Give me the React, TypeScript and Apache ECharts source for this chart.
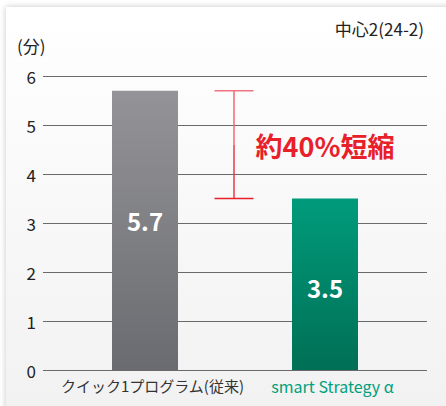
import React, { useEffect, useRef } from "react";
import * as echarts from "echarts";

const categories = ["クイック1プログラム(従来)", "smart Strategy α"];
const values = [5.7, 3.5];
const yTicks = [0, 1, 2, 3, 4, 5, 6];
const titleText = "中心2(24-2)";
const unitText = "(分)";
const noteText = "約40%短縮";

const FONT = "'Noto Sans CJK JP', 'Noto Sans', sans-serif";

export default function App() {
  const ref = useRef<HTMLDivElement>(null);
  useEffect(() => {
    if (!ref.current) return;
    const chart = echarts.init(ref.current, undefined, { renderer: "svg" });
    const gridTop = 76;
    const gridBottom = 36;
    const barColors = [
      new echarts.graphic.LinearGradient(0, 0, 0, 1, [
        { offset: 0, color: "#949498" },
        { offset: 1, color: "#6a6b70" },
      ]),
      new echarts.graphic.LinearGradient(0, 0, 0, 1, [
        { offset: 0, color: "#009b7b" },
        { offset: 1, color: "#006f55" },
      ]),
    ];
    const labelOffsets = [
      [0, -10],
      [0, 3],
    ];
    const option: any = {
      animation: false,
      backgroundColor: "#ffffff",
      textStyle: { fontFamily: FONT },
      grid: [
        { left: 43, right: 19, top: gridTop, bottom: gridBottom },
        { left: 55, right: 31, top: gridTop, bottom: gridBottom },
      ],
      xAxis: [
        { type: "category", gridIndex: 0, data: categories, show: false },
        {
          type: "category",
          gridIndex: 1,
          data: categories,
          axisLine: { show: false },
          axisTick: { show: false },
          axisLabel: {
            interval: 0,
            margin: 8,
            fontFamily: FONT,
            formatter: (v: string, i: number) => (i === 1 ? `{g|${v}}` : `{k|${v}}`),
            rich: {
              k: { fontSize: 15, color: "#333333", fontFamily: FONT, padding: [0, 0, 0, 15] },
              g: { fontSize: 16, color: "#00a07c", fontFamily: FONT, padding: [0, 0, 0, 15] },
            },
          },
        },
      ],
      yAxis: [
        {
          type: "value",
          gridIndex: 0,
          min: yTicks[0],
          max: yTicks[yTicks.length - 1],
          interval: 1,
          axisLine: { show: false },
          axisTick: { show: false },
          axisLabel: { margin: 7, fontSize: 17, color: "#222222", fontFamily: FONT },
          splitLine: { lineStyle: { color: "#6a6a6a", width: 1 } },
        },
        {
          type: "value",
          gridIndex: 1,
          min: yTicks[0],
          max: yTicks[yTicks.length - 1],
          interval: 1,
          show: false,
          splitLine: { show: false },
        },
      ],
      graphic: [],
      series: [
        {
          type: "bar",
          xAxisIndex: 1,
          yAxisIndex: 1,
          barWidth: 66,
          data: values.map((v, i) => ({
            value: v,
            itemStyle: { color: barColors[i] },
            label: { offset: labelOffsets[i] },
          })),
          label: {
            show: true,
            position: "inside",
            color: "#ffffff",
            fontSize: 24,
            fontWeight: 600,
            fontFamily: FONT,
            formatter: (p: any) => p.value.toFixed(1),
          },
          z: 5,
        },
      ],
    };
    chart.setOption(option);

    const p0 = chart.convertToPixel({ xAxisIndex: 1, yAxisIndex: 1 } as any, [0, values[0]]) as number[];
    const p1 = chart.convertToPixel({ xAxisIndex: 1, yAxisIndex: 1 } as any, [1, values[1]]) as number[];
    const bx = (p0[0] + p1[0]) / 2 - 1;
    const capHalf = 19.5;
    const midY = (p0[1] + p1[1]) / 2 + 1;
    const upperY = p0[1] + (p1[1] - p0[1]) * 0.5;

    chart.setOption({
      graphic: [
        {
          type: "rect",
          z: -10,
          silent: true,
          shape: { x: 6, y: 7, width: 460, height: 420 },
          style: {
            fill: new echarts.graphic.LinearGradient(0, 0, 0, 1, [
              { offset: 0, color: "#ffffff" },
              { offset: 1, color: "#f1f1f1" },
            ]),
            shadowBlur: 6,
            shadowColor: "rgba(0,0,0,0.22)",
          },
        },
        {
          type: "text",
          right: 22,
          top: 20,
          style: { text: titleText, fontSize: 17, fill: "#222222", fontFamily: FONT },
        },
        {
          type: "text",
          left: 17,
          top: 37,
          style: { text: unitText, fontSize: 17, fill: "#222222", fontFamily: FONT },
        },
        {
          type: "line",
          shape: { x1: bx, y1: p0[1], x2: bx, y2: upperY },
          style: { stroke: "#f06a76", lineWidth: 1.5 },
          z: 10,
        },
        {
          type: "line",
          shape: { x1: bx, y1: upperY, x2: bx, y2: p1[1] },
          style: { stroke: "#ea3a44", lineWidth: 1.5 },
          z: 10,
        },
        {
          type: "line",
          shape: { x1: bx - capHalf, y1: p0[1], x2: bx + capHalf, y2: p0[1] },
          style: { stroke: "#f07480", lineWidth: 1.5 },
          z: 10,
        },
        {
          type: "line",
          shape: { x1: bx - capHalf, y1: p1[1], x2: bx + capHalf, y2: p1[1] },
          style: { stroke: "#e8202a", lineWidth: 1.5 },
          z: 10,
        },
        {
          type: "text",
          x: p1[0],
          y: midY,
          style: {
            text: noteText,
            fontSize: 27,
            fontWeight: "bold",
            fill: "#e8202a",
            fontFamily: FONT,
            align: "center",
            verticalAlign: "middle",
          },
          z: 10,
        },
      ],
    });
    return () => chart.dispose();
  }, []);
  return (
    <div style={{ position: "fixed", left: 0, top: 0, width: 446, height: 406, background: "#fff" }}>
      <div ref={ref} style={{ width: 446, height: 406 }} />
    </div>
  );
}
